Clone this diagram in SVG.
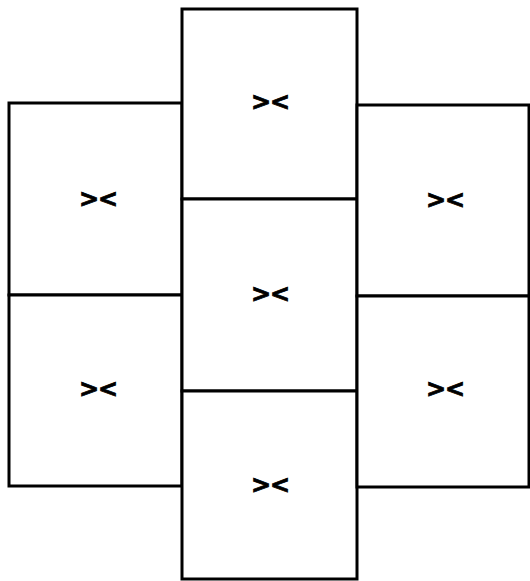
<svg xmlns="http://www.w3.org/2000/svg" width="530" height="581" viewBox="0 0 530 581">
<style>
.box{fill:#fff;stroke:#000;stroke-width:3}
.lbl{font-family:"DejaVu Sans",sans-serif;font-size:24px;font-weight:bold;text-anchor:middle;dominant-baseline:central;letter-spacing:-1px;fill:#000;stroke:#000;stroke-width:0.8}
</style>
<rect width="530" height="581" fill="#fff"/>
<g id="left-top"><rect class="box" x="9" y="103" width="173" height="192"/><text class="lbl" x="98" y="199">&gt;&lt;</text></g>
<g id="left-bottom"><rect class="box" x="9" y="295" width="173" height="191"/><text class="lbl" x="98" y="389">&gt;&lt;</text></g>
<g id="center-top"><rect class="box" x="182" y="9" width="175" height="190"/><text class="lbl" x="270" y="102">&gt;&lt;</text></g>
<g id="center-middle"><rect class="box" x="182" y="199" width="175" height="192"/><text class="lbl" x="270" y="294">&gt;&lt;</text></g>
<g id="center-bottom"><rect class="box" x="182" y="391" width="175" height="188"/><text class="lbl" x="270" y="485">&gt;&lt;</text></g>
<g id="right-top"><rect class="box" x="357" y="105" width="172" height="191"/><text class="lbl" x="445" y="200">&gt;&lt;</text></g>
<g id="right-bottom"><rect class="box" x="357" y="296" width="172" height="191"/><text class="lbl" x="445" y="389">&gt;&lt;</text></g>
<g id="connectors"></g>
</svg>
